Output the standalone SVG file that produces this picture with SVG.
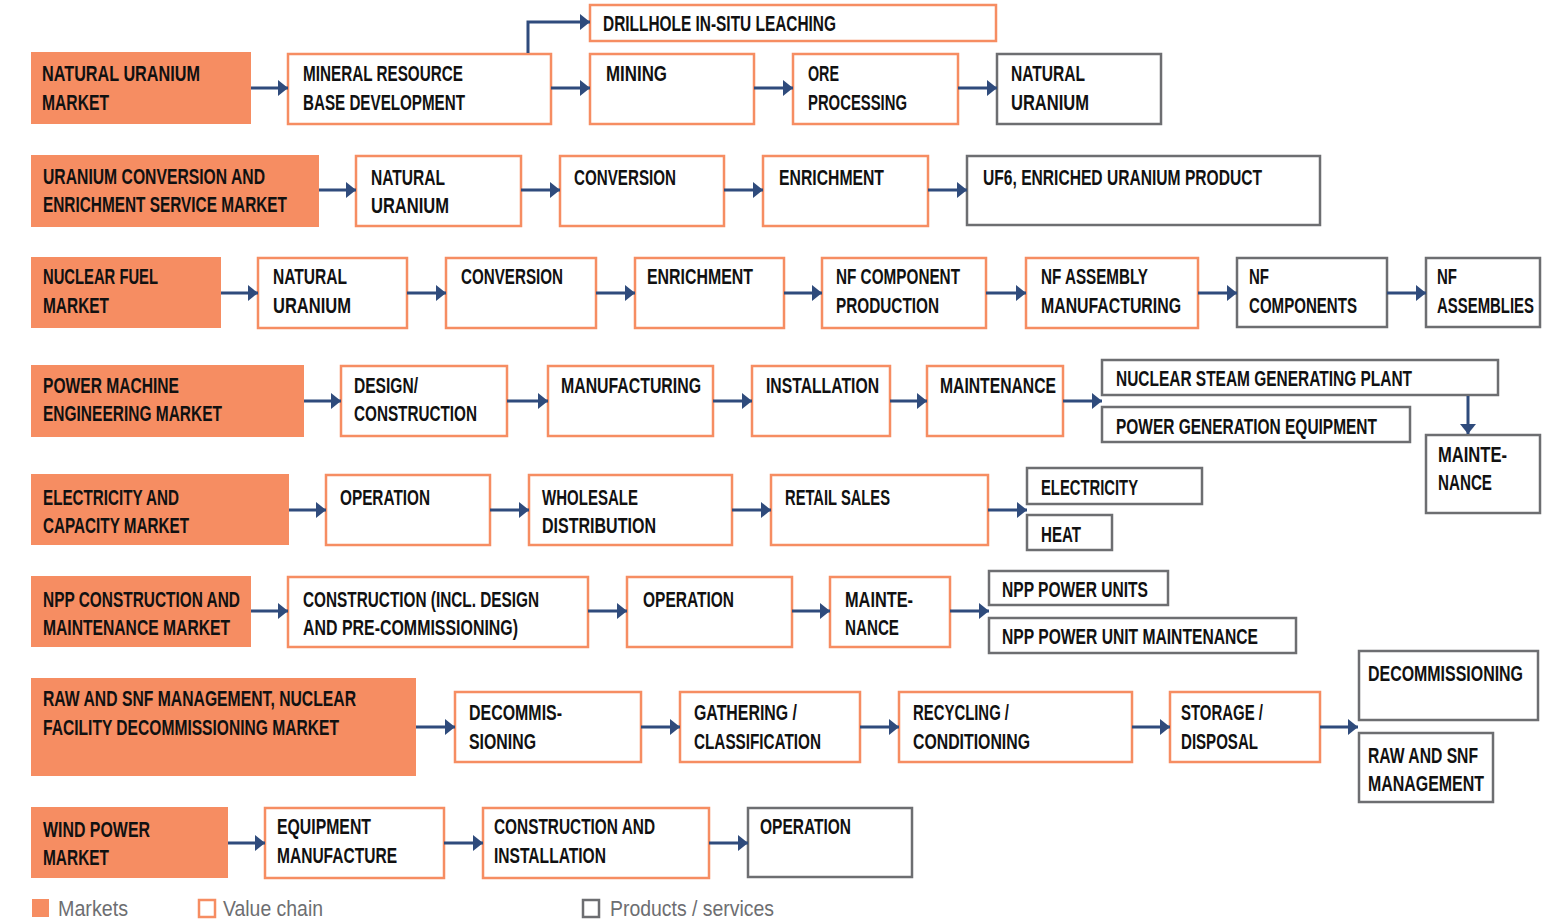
<svg xmlns="http://www.w3.org/2000/svg" width="1566" height="920" viewBox="0 0 1566 920">
<style>
.m{fill:#F68D62}
.v{fill:#fff;stroke:#F68D62;stroke-width:2.5}
.p{fill:#fff;stroke:#6D6E71;stroke-width:2.5}
.t{font-family:"Liberation Sans",Arial,sans-serif;font-weight:bold;font-size:22px;fill:#111}
.c{stroke:#2F4B7C;stroke-width:3;fill:none;marker-end:url(#ah)}
.lg{font-family:"Liberation Sans",Arial,sans-serif;font-size:22px;fill:#6D6E71}
</style>
<defs>
<marker id="ah" viewBox="0 0 10 16" refX="10" refY="8" markerWidth="10" markerHeight="16" markerUnits="userSpaceOnUse" orient="auto">
<path d="M0,0 L10,8 L0,16 z" fill="#2F4B7C"/>
</marker>
</defs>
<rect width="1566" height="920" fill="#fff"/>

<!-- Row 1 -->
<g id="m1"><rect class="m" x="31" y="52" width="220" height="72"/><text class="t" x="42" y="81" textLength="158" lengthAdjust="spacingAndGlyphs">NATURAL URANIUM</text><text class="t" x="42" y="110" textLength="67" lengthAdjust="spacingAndGlyphs">MARKET</text></g>
<g id="r1a"><rect class="v" x="288" y="54" width="263" height="70"/><text class="t" x="303" y="81" textLength="160" lengthAdjust="spacingAndGlyphs">MINERAL RESOURCE</text><text class="t" x="303" y="110" textLength="162" lengthAdjust="spacingAndGlyphs">BASE DEVELOPMENT</text></g>
<g id="r1drill"><rect class="v" x="590" y="5" width="406" height="36"/><text class="t" x="603" y="31" textLength="233" lengthAdjust="spacingAndGlyphs">DRILLHOLE IN-SITU LEACHING</text></g>
<g id="r1b"><rect class="v" x="590" y="54" width="164" height="70"/><text class="t" x="606" y="81" textLength="61" lengthAdjust="spacingAndGlyphs">MINING</text></g>
<g id="r1c"><rect class="v" x="793" y="54" width="165" height="70"/><text class="t" x="808" y="81" textLength="31" lengthAdjust="spacingAndGlyphs">ORE</text><text class="t" x="808" y="110" textLength="99" lengthAdjust="spacingAndGlyphs">PROCESSING</text></g>
<g id="r1p"><rect class="p" x="997" y="54" width="164" height="70"/><text class="t" x="1011" y="81" textLength="74" lengthAdjust="spacingAndGlyphs">NATURAL</text><text class="t" x="1011" y="110" textLength="78" lengthAdjust="spacingAndGlyphs">URANIUM</text></g>

<!-- Row 2 -->
<g id="m2"><rect class="m" x="31" y="155" width="288" height="72"/><text class="t" x="43" y="184" textLength="222" lengthAdjust="spacingAndGlyphs">URANIUM CONVERSION AND</text><text class="t" x="43" y="212" textLength="244" lengthAdjust="spacingAndGlyphs">ENRICHMENT SERVICE MARKET</text></g>
<g id="r2a"><rect class="v" x="356" y="156" width="165" height="70"/><text class="t" x="371" y="185" textLength="74" lengthAdjust="spacingAndGlyphs">NATURAL</text><text class="t" x="371" y="213" textLength="78" lengthAdjust="spacingAndGlyphs">URANIUM</text></g>
<g id="r2b"><rect class="v" x="560" y="156" width="164" height="70"/><text class="t" x="574" y="185" textLength="102" lengthAdjust="spacingAndGlyphs">CONVERSION</text></g>
<g id="r2c"><rect class="v" x="763" y="156" width="165" height="70"/><text class="t" x="779" y="185" textLength="105" lengthAdjust="spacingAndGlyphs">ENRICHMENT</text></g>
<g id="r2p"><rect class="p" x="967" y="156" width="353" height="69"/><text class="t" x="983" y="185" textLength="279" lengthAdjust="spacingAndGlyphs">UF6, ENRICHED URANIUM PRODUCT</text></g>

<!-- Row 3 -->
<g id="m3"><rect class="m" x="31" y="257" width="190" height="71"/><text class="t" x="43" y="284" textLength="115" lengthAdjust="spacingAndGlyphs">NUCLEAR FUEL</text><text class="t" x="43" y="313" textLength="66" lengthAdjust="spacingAndGlyphs">MARKET</text></g>
<g id="r3a"><rect class="v" x="258" y="258" width="149" height="70"/><text class="t" x="273" y="284" textLength="74" lengthAdjust="spacingAndGlyphs">NATURAL</text><text class="t" x="273" y="313" textLength="78" lengthAdjust="spacingAndGlyphs">URANIUM</text></g>
<g id="r3b"><rect class="v" x="446" y="258" width="150" height="70"/><text class="t" x="461" y="284" textLength="102" lengthAdjust="spacingAndGlyphs">CONVERSION</text></g>
<g id="r3c"><rect class="v" x="635" y="258" width="149" height="70"/><text class="t" x="647" y="284" textLength="106" lengthAdjust="spacingAndGlyphs">ENRICHMENT</text></g>
<g id="r3d"><rect class="v" x="822" y="258" width="164" height="70"/><text class="t" x="836" y="284" textLength="124" lengthAdjust="spacingAndGlyphs">NF COMPONENT</text><text class="t" x="836" y="313" textLength="103" lengthAdjust="spacingAndGlyphs">PRODUCTION</text></g>
<g id="r3e"><rect class="v" x="1026" y="258" width="172" height="70"/><text class="t" x="1041" y="284" textLength="107" lengthAdjust="spacingAndGlyphs">NF ASSEMBLY</text><text class="t" x="1041" y="313" textLength="140" lengthAdjust="spacingAndGlyphs">MANUFACTURING</text></g>
<g id="r3p1"><rect class="p" x="1237" y="258" width="150" height="69"/><text class="t" x="1249" y="284" textLength="20" lengthAdjust="spacingAndGlyphs">NF</text><text class="t" x="1249" y="313" textLength="108" lengthAdjust="spacingAndGlyphs">COMPONENTS</text></g>
<g id="r3p2"><rect class="p" x="1426" y="258" width="114" height="69"/><text class="t" x="1437" y="284" textLength="20" lengthAdjust="spacingAndGlyphs">NF</text><text class="t" x="1437" y="313" textLength="97" lengthAdjust="spacingAndGlyphs">ASSEMBLIES</text></g>

<!-- Row 4 -->
<g id="m4"><rect class="m" x="31" y="365" width="273" height="72"/><text class="t" x="43" y="393" textLength="136" lengthAdjust="spacingAndGlyphs">POWER MACHINE</text><text class="t" x="43" y="421" textLength="179" lengthAdjust="spacingAndGlyphs">ENGINEERING MARKET</text></g>
<g id="r4a"><rect class="v" x="341" y="366" width="166" height="70"/><text class="t" x="354" y="393" textLength="64" lengthAdjust="spacingAndGlyphs">DESIGN/</text><text class="t" x="354" y="421" textLength="123" lengthAdjust="spacingAndGlyphs">CONSTRUCTION</text></g>
<g id="r4b"><rect class="v" x="548" y="366" width="165" height="70"/><text class="t" x="561" y="393" textLength="140" lengthAdjust="spacingAndGlyphs">MANUFACTURING</text></g>
<g id="r4c"><rect class="v" x="752" y="366" width="138" height="70"/><text class="t" x="766" y="393" textLength="113" lengthAdjust="spacingAndGlyphs">INSTALLATION</text></g>
<g id="r4d"><rect class="v" x="927" y="366" width="136" height="70"/><text class="t" x="940" y="393" textLength="116" lengthAdjust="spacingAndGlyphs">MAINTENANCE</text></g>
<g id="r4p1"><rect class="p" x="1102" y="360" width="396" height="35"/><text class="t" x="1116" y="386" textLength="296" lengthAdjust="spacingAndGlyphs">NUCLEAR STEAM GENERATING PLANT</text></g>
<g id="r4p2"><rect class="p" x="1102" y="407" width="308" height="35"/><text class="t" x="1116" y="434" textLength="261" lengthAdjust="spacingAndGlyphs">POWER GENERATION EQUIPMENT</text></g>
<g id="r4p3"><rect class="p" x="1426" y="435" width="114" height="78"/><text class="t" x="1438" y="462" textLength="69" lengthAdjust="spacingAndGlyphs">MAINTE-</text><text class="t" x="1438" y="490" textLength="54" lengthAdjust="spacingAndGlyphs">NANCE</text></g>

<!-- Row 5 -->
<g id="m5"><rect class="m" x="31" y="474" width="258" height="71"/><text class="t" x="43" y="505" textLength="136" lengthAdjust="spacingAndGlyphs">ELECTRICITY AND</text><text class="t" x="43" y="533" textLength="146" lengthAdjust="spacingAndGlyphs">CAPACITY MARKET</text></g>
<g id="r5a"><rect class="v" x="326" y="475" width="164" height="70"/><text class="t" x="340" y="505" textLength="90" lengthAdjust="spacingAndGlyphs">OPERATION</text></g>
<g id="r5b"><rect class="v" x="529" y="475" width="203" height="70"/><text class="t" x="542" y="505" textLength="96" lengthAdjust="spacingAndGlyphs">WHOLESALE</text><text class="t" x="542" y="533" textLength="114" lengthAdjust="spacingAndGlyphs">DISTRIBUTION</text></g>
<g id="r5c"><rect class="v" x="771" y="475" width="217" height="70"/><text class="t" x="785" y="505" textLength="105" lengthAdjust="spacingAndGlyphs">RETAIL SALES</text></g>
<g id="r5p1"><rect class="p" x="1027" y="468" width="175" height="36"/><text class="t" x="1041" y="495" textLength="97" lengthAdjust="spacingAndGlyphs">ELECTRICITY</text></g>
<g id="r5p2"><rect class="p" x="1027" y="515" width="85" height="35"/><text class="t" x="1041" y="542" textLength="40" lengthAdjust="spacingAndGlyphs">HEAT</text></g>

<!-- Row 6 -->
<g id="m6"><rect class="m" x="31" y="576" width="220" height="71"/><text class="t" x="43" y="607" textLength="197" lengthAdjust="spacingAndGlyphs">NPP CONSTRUCTION AND</text><text class="t" x="43" y="635" textLength="187" lengthAdjust="spacingAndGlyphs">MAINTENANCE MARKET</text></g>
<g id="r6a"><rect class="v" x="288" y="577" width="300" height="70"/><text class="t" x="303" y="607" textLength="236" lengthAdjust="spacingAndGlyphs">CONSTRUCTION (INCL. DESIGN</text><text class="t" x="303" y="635" textLength="215" lengthAdjust="spacingAndGlyphs">AND PRE-COMMISSIONING)</text></g>
<g id="r6b"><rect class="v" x="627" y="577" width="165" height="70"/><text class="t" x="643" y="607" textLength="91" lengthAdjust="spacingAndGlyphs">OPERATION</text></g>
<g id="r6c"><rect class="v" x="830" y="577" width="120" height="70"/><text class="t" x="845" y="607" textLength="68" lengthAdjust="spacingAndGlyphs">MAINTE-</text><text class="t" x="845" y="635" textLength="54" lengthAdjust="spacingAndGlyphs">NANCE</text></g>
<g id="r6p1"><rect class="p" x="989" y="571" width="179" height="34"/><text class="t" x="1002" y="597" textLength="146" lengthAdjust="spacingAndGlyphs">NPP POWER UNITS</text></g>
<g id="r6p2"><rect class="p" x="989" y="618" width="307" height="35"/><text class="t" x="1002" y="644" textLength="256" lengthAdjust="spacingAndGlyphs">NPP POWER UNIT MAINTENANCE</text></g>

<!-- Row 7 -->
<g id="m7"><rect class="m" x="31" y="678" width="385" height="98"/><text class="t" x="43" y="706" textLength="313" lengthAdjust="spacingAndGlyphs">RAW AND SNF MANAGEMENT,  NUCLEAR</text><text class="t" x="43" y="735" textLength="296" lengthAdjust="spacingAndGlyphs">FACILITY DECOMMISSIONING MARKET</text></g>
<g id="r7a"><rect class="v" x="455" y="692" width="186" height="70"/><text class="t" x="469" y="720" textLength="93" lengthAdjust="spacingAndGlyphs">DECOMMIS-</text><text class="t" x="469" y="749" textLength="67" lengthAdjust="spacingAndGlyphs">SIONING</text></g>
<g id="r7b"><rect class="v" x="680" y="692" width="180" height="70"/><text class="t" x="694" y="720" textLength="103" lengthAdjust="spacingAndGlyphs">GATHERING /</text><text class="t" x="694" y="749" textLength="127" lengthAdjust="spacingAndGlyphs">CLASSIFICATION</text></g>
<g id="r7c"><rect class="v" x="899" y="692" width="233" height="70"/><text class="t" x="913" y="720" textLength="96" lengthAdjust="spacingAndGlyphs">RECYCLING /</text><text class="t" x="913" y="749" textLength="117" lengthAdjust="spacingAndGlyphs">CONDITIONING</text></g>
<g id="r7d"><rect class="v" x="1170" y="692" width="150" height="70"/><text class="t" x="1181" y="720" textLength="82" lengthAdjust="spacingAndGlyphs">STORAGE /</text><text class="t" x="1181" y="749" textLength="77" lengthAdjust="spacingAndGlyphs">DISPOSAL</text></g>
<g id="r7p1"><rect class="p" x="1359" y="651" width="179" height="69"/><text class="t" x="1368" y="681" textLength="155" lengthAdjust="spacingAndGlyphs">DECOMMISSIONING</text></g>
<g id="r7p2"><rect class="p" x="1359" y="733" width="134" height="69"/><text class="t" x="1368" y="763" textLength="110" lengthAdjust="spacingAndGlyphs">RAW AND SNF</text><text class="t" x="1368" y="791" textLength="116" lengthAdjust="spacingAndGlyphs">MANAGEMENT</text></g>

<!-- Row 8 -->
<g id="m8"><rect class="m" x="31" y="807" width="197" height="71"/><text class="t" x="43" y="837" textLength="107" lengthAdjust="spacingAndGlyphs">WIND POWER</text><text class="t" x="43" y="865" textLength="66" lengthAdjust="spacingAndGlyphs">MARKET</text></g>
<g id="r8a"><rect class="v" x="265" y="808" width="179" height="70"/><text class="t" x="277" y="834" textLength="94" lengthAdjust="spacingAndGlyphs">EQUIPMENT</text><text class="t" x="277" y="863" textLength="120" lengthAdjust="spacingAndGlyphs">MANUFACTURE</text></g>
<g id="r8b"><rect class="v" x="483" y="808" width="226" height="70"/><text class="t" x="494" y="834" textLength="161" lengthAdjust="spacingAndGlyphs">CONSTRUCTION AND</text><text class="t" x="494" y="863" textLength="112" lengthAdjust="spacingAndGlyphs">INSTALLATION</text></g>
<g id="r8p"><rect class="p" x="748" y="808" width="164" height="69"/><text class="t" x="760" y="834" textLength="91" lengthAdjust="spacingAndGlyphs">OPERATION</text></g>

<!-- Connectors -->
<g id="connectors">
<path class="c" d="M251,88 H288"/>
<path class="c" d="M528,53 V22 H590"/>
<path class="c" d="M551,88 H590"/>
<path class="c" d="M754,88 H793"/>
<path class="c" d="M958,88 H997"/>

<path class="c" d="M319,190 H356"/>
<path class="c" d="M521,190 H560"/>
<path class="c" d="M724,190 H763"/>
<path class="c" d="M928,190 H967"/>

<path class="c" d="M221,293 H258"/>
<path class="c" d="M407,293 H446"/>
<path class="c" d="M596,293 H635"/>
<path class="c" d="M784,293 H822"/>
<path class="c" d="M986,293 H1026"/>
<path class="c" d="M1198,293 H1237"/>
<path class="c" d="M1387,293 H1426"/>

<path class="c" d="M304,401 H341"/>
<path class="c" d="M507,401 H548"/>
<path class="c" d="M713,401 H752"/>
<path class="c" d="M890,401 H927"/>
<path class="c" d="M1063,401 H1102"/>
<path class="c" d="M1468,396 V434"/>

<path class="c" d="M289,510 H326"/>
<path class="c" d="M490,510 H529"/>
<path class="c" d="M732,510 H771"/>
<path class="c" d="M988,510 H1027"/>

<path class="c" d="M251,611 H288"/>
<path class="c" d="M588,611 H627"/>
<path class="c" d="M792,611 H830"/>
<path class="c" d="M950,611 H989"/>

<path class="c" d="M416,727 H455"/>
<path class="c" d="M641,727 H680"/>
<path class="c" d="M860,727 H899"/>
<path class="c" d="M1132,727 H1170"/>
<path class="c" d="M1320,727 H1358"/>

<path class="c" d="M228,843 H265"/>
<path class="c" d="M444,843 H483"/>
<path class="c" d="M709,843 H748"/>
</g>

<!-- Legend -->
<g id="legend">
<rect class="m" x="32" y="899" width="17" height="18"/>
<text class="lg" x="58" y="916" textLength="70" lengthAdjust="spacingAndGlyphs">Markets</text>
<rect class="v" x="199" y="900" width="16" height="17"/>
<text class="lg" x="223" y="916" textLength="100" lengthAdjust="spacingAndGlyphs">Value chain</text>
<rect class="p" x="583" y="900" width="16" height="17"/>
<text class="lg" x="610" y="916" textLength="164" lengthAdjust="spacingAndGlyphs">Products / services</text>
</g>
</svg>
